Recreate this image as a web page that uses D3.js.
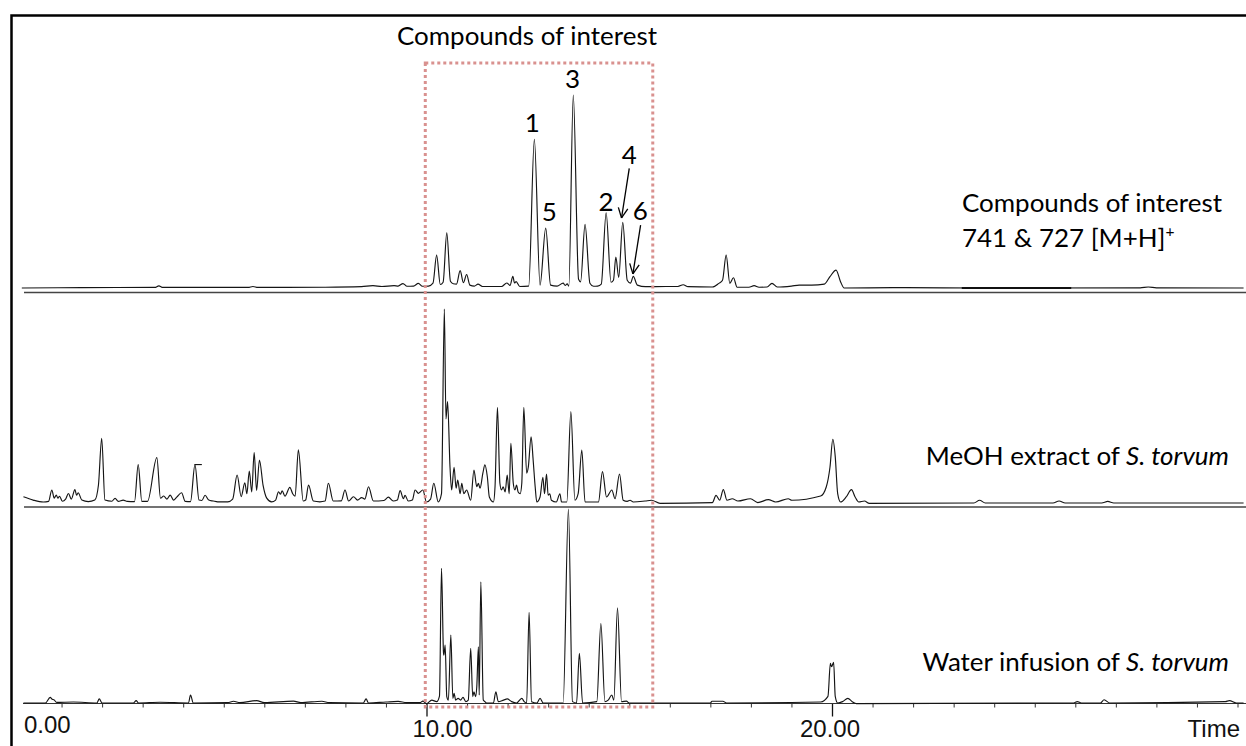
<!DOCTYPE html>
<html>
<head>
<meta charset="utf-8">
<script src="https://cdn.jsdelivr.net/npm/d3@7"></script>
<style>
    body { margin: 0; background: #fff; }
    svg { display: block; }
    .label { font-family: Lato, "Open Sans", sans-serif; fill: #000; }
    .tick-label { font-family: "Liberation Sans", Arial, sans-serif; font-size: 24px; fill: #111; }
</style>
</head>
<body>
<div id="chart"></div>
<script>
// chromatogram readings: [retention time (min), intensity (% of the largest peak)]
const eicTrace = [
    [0.02,0.0],[1.5,0.2],[3.30,0.3],[3.40,1.1],[3.50,0.3],[5.60,0.3],[5.72,0.8],[5.84,0.3],[7.50,0.4],
    [8.40,0.7],[8.68,1.2],[8.90,0.8],[9.20,1.2],[9.30,1.0],[9.42,2.3],[9.52,0.9],[9.68,1.0],[9.80,2.4],
    [9.90,0.9],[10.05,1.0],[10.16,2.5],[10.25,17],[10.34,1.8],[10.41,3.0],[10.50,28.6],[10.59,3.5],
    [10.66,2.2],[10.74,2.0],[10.83,9.0],[10.91,2.8],[10.99,7.0],[11.07,1.5],[11.18,1.0],[11.27,2.0],
    [11.38,0.8],[11.85,0.8],[11.98,2.6],[12.06,1.3],[12.13,6.0],[12.17,2.6],[12.21,3.3],[12.30,0.8],
    [12.52,1.0],[12.66,77],[12.80,1.5],[12.94,31],[13.06,1.5],[13.22,1.0],[13.37,2.5],[13.42,1.3],
    [13.47,2.1],[13.51,1.0],[13.62,100],[13.75,4.5],[13.80,3.2],[13.91,33],[14.03,2.5],[14.12,0.9],
    [14.22,1.0],[14.31,2.0],[14.43,39],[14.55,3.0],[14.61,4.0],[14.67,16],[14.74,5.5],[14.84,34],
    [14.95,4.0],[15.03,2.5],[15.10,6.0],[15.20,1.5],[15.40,0.7],[15.90,0.8],[16.20,0.8],[16.33,1.7],
    [16.45,0.7],[17.05,0.5],[17.21,2.4],[17.30,4.0],[17.39,17],[17.48,2.4],[17.57,5.3],[17.66,0.4],
    [17.95,0.4],[18.08,1.2],[18.20,0.4],[18.40,0.5],[18.52,2.4],[18.65,0.5],[19.00,1.0],[19.19,1.5],
    [19.50,1.5],[19.81,2.0],[19.95,5.9],[20.10,9.3],[20.21,3.3],[20.30,0.0],[21.5,0.2],[24.0,0.0],
    [27.6,0.1],[27.8,0.5],[28.0,0.1],[30.15,0.0]
];
// darker stretch of the top baseline
const eicDarkSegment = [[23.2,0.0],[25.9,0.0]];

const meohTrace = [
    [0.06,2.7],[0.30,1.0],[0.55,0.0],[0.68,0.3],[0.76,6.2],[0.82,2.0],[0.87,3.6],[0.91,2.0],[0.95,3.0],
    [1.02,0.4],[1.10,1.5],[1.17,4.4],[1.24,1.5],[1.33,6.4],[1.37,3.5],[1.41,4.8],[1.50,1.0],[1.66,0.2],
    [1.82,1.0],[1.91,8.8],[1.99,33],[2.07,1.0],[2.24,0.4],[2.32,1.9],[2.40,0.3],[2.52,1.0],[2.62,0.3],
    [2.80,0.2],[2.89,19.4],[2.98,0.3],[3.12,0.3],[3.35,23],[3.44,2.0],[3.52,3.1],[3.60,1.5],[3.68,3.6],
    [3.76,1.0],[3.84,2.5],[3.96,4.8],[4.05,0.3],[4.18,0.2],[4.29,19.4],[4.39,1.0],[4.46,0.8],[4.54,3.5],
    [4.63,1.0],[4.74,0.5],[4.85,0.1],[5.10,0.1],[5.22,1.5],[5.33,14],[5.43,2.8],[5.52,10],[5.57,4.3],
    [5.63,16],[5.69,5.2],[5.75,25.6],[5.81,6.0],[5.88,21.7],[5.97,8.6],[6.06,2.0],[6.18,0.1],[6.28,1.0],
    [6.35,5.3],[6.40,4.0],[6.44,5.8],[6.51,3.0],[6.63,7.6],[6.70,4.3],[6.76,3.0],[6.84,27],[6.96,0.5],
    [7.02,1.0],[7.09,8.8],[7.21,0.5],[7.37,0.1],[7.50,0.5],[7.58,9.7],[7.70,0.5],[7.90,0.6],[7.99,6.2],
    [8.08,0.5],[8.20,2.7],[8.30,1.0],[8.40,2.3],[8.48,1.5],[8.57,7.9],[8.69,0.5],[8.95,0.8],[9.06,2.5],
    [9.18,0.5],[9.28,1.0],[9.35,5.9],[9.43,1.7],[9.47,3.5],[9.55,0.5],[9.65,1.0],[9.72,6.2],[9.80,4.5],
    [9.91,6.2],[10.00,0.0],[10.10,1.5],[10.18,9.7],[10.29,0.0],[10.37,4.3],[10.44,100],[10.48,43],
    [10.52,52],[10.58,18],[10.62,6.2],[10.68,18],[10.73,7.1],[10.77,11.4],[10.83,4.3],[10.87,9.7],
    [10.92,4.3],[10.99,6.2],[11.09,0.9],[11.17,16.6],[11.24,7.9],[11.28,9.7],[11.32,7.1],[11.39,14.9],
    [11.44,19.2],[11.50,13.1],[11.55,2.6],[11.65,0.0],[11.69,7.9],[11.75,49],[11.81,9.7],[11.85,6.2],
    [11.89,7.9],[11.94,5.2],[11.99,14],[12.04,4.3],[12.08,30.4],[12.14,9.7],[12.18,6.2],[12.22,8.8],
    [12.26,5.2],[12.31,4.3],[12.35,9.7],[12.40,49],[12.47,14.9],[12.51,18],[12.58,33.8],[12.63,21.8],
    [12.68,7.9],[12.72,0.0],[12.80,2.6],[12.87,12.8],[12.91,4.3],[12.96,14.5],[13.00,3.5],[13.04,4.3],
    [13.08,0.9],[13.20,0.0],[13.29,4.3],[13.33,0.0],[13.46,0.0],[13.56,46.8],[13.66,0.9],[13.74,4.3],
    [13.83,26.9],[13.91,0.0],[14.24,0.0],[14.34,15.7],[14.44,2.6],[14.57,6.2],[14.65,1.7],[14.76,14.5],
    [14.85,0.9],[14.95,0.3],[15.02,0.9],[15.10,0.0],[15.39,0.5],[15.55,0.9],[15.76,-0.7],[17.05,-0.3],
    [17.14,3.4],[17.23,0.9],[17.32,6.4],[17.41,0.9],[17.54,1.7],[17.68,0.5],[17.99,1.7],[18.17,-0.3],
    [18.43,1.2],[18.61,0.0],[18.92,1.7],[19.01,0.9],[19.72,3.1],[19.86,7.9],[19.95,18],[20.02,32.5],
    [20.08,23.5],[20.14,4.3],[20.21,0.0],[20.35,2.6],[20.48,6.4],[20.57,2.6],[20.66,0.0],[20.80,0.5],
    [20.92,-0.7],[23.50,-0.5],[23.64,0.9],[23.78,-0.5],[25.45,-0.5],[25.60,0.5],[25.75,-0.5],[26.65,-0.5],
    [26.80,0.3],[26.95,-0.5],[30.15,-0.5]
];
// the little flat cap drawn on the 4.3 min peak
const meohCapMark = [[4.28,19.4],[4.46,19.4]];

const waterTrace = [
    [0.06,0.0],[0.60,0.0],[0.72,2.9],[0.77,1.9],[0.81,1.7],[0.88,0.3],[1.29,0.5],[1.87,0.0],[1.93,2.1],
    [2.00,0.0],[2.77,0.0],[2.84,1.2],[2.90,0.0],[3.43,0.4],[4.13,0.0],[4.18,4.1],[4.25,0.0],[5.10,0.2],
    [5.24,0.9],[5.40,0.2],[5.81,1.2],[6.00,0.2],[6.72,1.0],[6.90,0.2],[7.42,0.9],[7.60,0.2],[8.44,0.0],
    [8.51,2.1],[8.57,0.0],[9.00,0.5],[9.30,0.8],[9.51,0.2],[9.84,0.2],[9.91,1.0],[10.00,-0.3],[10.13,1.5],
    [10.25,0.7],[10.32,3.6],[10.37,69.4],[10.42,25.6],[10.43,24.7],[10.46,29.9],[10.50,3.3],[10.54,1.5],
    [10.60,35],[10.65,2.4],[10.68,5.0],[10.72,1.5],[10.78,2.4],[10.84,1.5],[10.90,2.9],[10.97,0.7],
    [11.03,1.5],[11.09,28.2],[11.14,3.3],[11.17,5.8],[11.21,3.3],[11.24,8.4],[11.28,29.0],[11.30,4.1],
    [11.34,62.5],[11.40,1.5],[11.44,0.7],[11.48,0.0],[11.65,0.0],[11.71,5.8],[11.77,0.7],[11.90,1.5],
    [11.99,2.1],[12.10,0.7],[12.22,0.0],[12.35,2.4],[12.41,0.7],[12.47,0.0],[12.53,46.8],[12.59,0.7],
    [12.72,0.0],[12.80,2.4],[12.88,0.0],[13.37,0.0],[13.50,100],[13.60,0.7],[13.70,0.0],[13.77,25.6],
    [13.85,0.0],[14.20,0.7],[14.30,41],[14.40,0.7],[14.48,1.5],[14.57,4.1],[14.62,1.5],[14.71,49.1],
    [14.81,0.7],[14.93,1.0],[15.00,0.0],[17.00,0.0],[17.04,0.9],[17.31,0.9],[17.40,0.0],[19.72,0.5],
    [19.90,3.4],[19.96,20.4],[19.99,18.7],[20.04,21.0],[20.08,3.4],[20.14,0.0],[20.26,0.7],[20.39,2.4],
    [20.50,0.7],[20.60,-0.3],[25.96,0.0],[26.05,0.7],[26.15,0.0],[26.62,0.0],[26.71,1.7],[26.85,0.0],
    [29.70,0.7],[29.80,1.2],[29.97,0.0],[30.15,0.0]
];

// peak numbers on the top trace: label, time, intensity where the label sits
const peakLabels = [
    {label: "1", t: 12.61, v: 81},
    {label: "5", t: 13.03, v: 34.9},
    {label: "3", t: 13.60, v: 103.5},
    {label: "2", t: 14.43, v: 40},
    {label: "4", t: 15.00, v: 64.1},
    {label: "6", t: 15.27, v: 35.2}
];
// arrows for the crowded peaks: [time, intensity] from -> to
const peakArrows = [
    {from: [15.00, 62.0], to: [14.81, 36.3]},
    {from: [15.28, 32.6], to: [15.09, 7.3]}
];

const boxRange = [9.97, 15.58];
const majorTicks = [10, 20];
const tickLabels = [
    {t: 0, text: "0.00"},
    {t: 10, text: "10.00"},
    {t: 20, text: "20.00"}
];

// ---- setup ----
const svgWidth = 1246;
const svgHeight = 746;

let svg = d3.select('#chart')
    .append('svg')
    .attr('width', svgWidth)
    .attr('height', svgHeight);

svg.append('rect')
    .attr('width', svgWidth)
    .attr('height', svgHeight)
    .attr('fill', '#fff');

// time axis shared by all three traces
let x = d3.scaleLinear()
    .domain([0, 30])
    .range([21, 1237.5]);

// one stacked panel per trace (baseline y, y of 100 %, y of its rule line)
let panels = [
    {data: eicTrace, base: 288, top: 95, rule: 292.5},
    {data: meohTrace, base: 502, top: 309, rule: 507},
    {data: waterTrace, base: 703, top: 509, rule: null}
];

panels.forEach(p => {
    p.y = d3.scaleLinear().domain([0, 100]).range([p.base, p.top]);
    if (p.rule) {
        svg.append('line')
            .attr('x1', x(0) + 3).attr('x2', svgWidth)
            .attr('y1', p.rule).attr('y2', p.rule)
            .attr('stroke', '#444')
            .attr('stroke-width', 1.5);
    }
});

// bottom time axis: minor ticks every minute, long ticks at 10 and 20
let axisY = 703.5;
let minorAxis = d3.axisBottom(x)
    .tickValues(d3.range(1, 31).filter(d => !majorTicks.includes(d)))
    .tickSize(4)
    .tickSizeOuter(0)
    .tickFormat('');
let axisG = svg.append('g')
    .attr('transform', `translate(0,${axisY})`)
    .call(minorAxis);
axisG.select('.domain').remove();
axisG.selectAll('line').attr('stroke', '#333');

let majorAxis = d3.axisBottom(x)
    .tickValues(majorTicks)
    .tickSize(13)
    .tickSizeOuter(0)
    .tickFormat('');
let majorG = svg.append('g')
    .attr('transform', `translate(0,${axisY})`)
    .call(majorAxis);
majorG.select('.domain').remove();
majorG.selectAll('line').attr('stroke', '#111').attr('stroke-width', 1.3);

svg.append('line')
    .attr('x1', x(0) + 2).attr('x2', svgWidth)
    .attr('y1', axisY).attr('y2', axisY)
    .attr('stroke', '#333')
    .attr('stroke-width', 1.2);

// traces
panels.forEach(p => {
    let valueLine = d3.line()
        .x(d => x(d[0]))
        .y(d => p.y(d[1]))
        .curve(d3.curveMonotoneX);
    svg.append('path')
        .attr('d', valueLine(p.data))
        .attr('fill', 'none')
        .attr('stroke', '#151515')
        .attr('stroke-width', 1.15)
        .attr('stroke-linejoin', 'round');
});

svg.append('path')
    .attr('d', d3.line().x(d => x(d[0])).y(d => panels[1].y(d[1]))(meohCapMark))
    .attr('fill', 'none')
    .attr('stroke', '#151515')
    .attr('stroke-width', 1.15);

svg.append('path')
    .attr('d', d3.line().x(d => x(d[0])).y(d => panels[0].y(d[1]))(eicDarkSegment))
    .attr('fill', 'none')
    .attr('stroke', '#111')
    .attr('stroke-width', 2);

// dotted box round the compounds of interest
svg.append('rect')
    .attr('x', x(boxRange[0]))
    .attr('y', 63)
    .attr('width', x(boxRange[1]) - x(boxRange[0]))
    .attr('height', 707 - 63)
    .attr('fill', 'none')
    .attr('stroke', '#d9918f')
    .attr('stroke-width', 3)
    .attr('stroke-dasharray', '3,3');

// frame (right and bottom sides fall outside the picture)
svg.append('rect')
    .attr('x', 11.5)
    .attr('y', 15.5)
    .attr('width', svgWidth)
    .attr('height', svgHeight)
    .attr('fill', 'none')
    .attr('stroke', '#000')
    .attr('stroke-width', 2.5);

// size the Calibri-like text so the reference phrase is 260px wide
let probe = svg.append('text').attr('class', 'label').style('font-size', '28px')
    .text('Compounds of interest');
let labelSize = 28 * 260 / probe.node().getComputedTextLength();
probe.remove();

function addLabel(xPos, yPos, anchor) {
    return svg.append('text')
        .attr('class', 'label')
        .attr('x', xPos)
        .attr('y', yPos)
        .attr('text-anchor', anchor)
        .style('font-size', labelSize + 'px');
}

addLabel(397, 45, 'start').text('Compounds of interest');

addLabel(962, 212, 'start').text('Compounds of interest');
let massLabel = addLabel(962, 247, 'start');
massLabel.append('tspan').text('741 & 727 [M+H]');
massLabel.append('tspan').attr('dy', -10).style('font-size', (labelSize * 0.6) + 'px').text('+');

let meohLabel = addLabel(1229, 465, 'end');
meohLabel.append('tspan').text('MeOH extract of ');
meohLabel.append('tspan').style('font-style', 'italic').text('S. torvum');

let waterLabel = addLabel(1229, 670.5, 'end');
waterLabel.append('tspan').text('Water infusion of ');
waterLabel.append('tspan').style('font-style', 'italic').text('S. torvum');

// peak numbers and arrows on the top trace
let yTop = panels[0].y;
peakLabels.forEach(d => {
    addLabel(x(d.t), yTop(d.v), 'middle').text(d.label);
});

peakArrows.forEach(a => {
    let x1 = x(a.from[0]), y1 = yTop(a.from[1]);
    let x2 = x(a.to[0]), y2 = yTop(a.to[1]);
    svg.append('line')
        .attr('x1', x1).attr('y1', y1).attr('x2', x2).attr('y2', y2)
        .attr('stroke', '#000').attr('stroke-width', 1.3);
    let ang = Math.atan2(y1 - y2, x1 - x2);
    [-0.45, 0.45].forEach(off => {
        svg.append('line')
            .attr('x1', x2).attr('y1', y2)
            .attr('x2', x2 + 11 * Math.cos(ang + off))
            .attr('y2', y2 + 11 * Math.sin(ang + off))
            .attr('stroke', '#000').attr('stroke-width', 1.3);
    });
});

// time labels
tickLabels.forEach(d => {
    let t = svg.append('text')
        .attr('class', 'tick-label')
        .text(d.text);
    if (d.t == 0) {
        t.attr('x', x(d.t) + 3).attr('y', 732.5).attr('text-anchor', 'start');
    } else if (d.t == 10) {
        t.attr('x', x(d.t) + 16).attr('y', 737).attr('text-anchor', 'middle');
    } else {
        t.attr('x', x(d.t) - 2).attr('y', 737).attr('text-anchor', 'middle');
    }
});

svg.append('text')
    .attr('class', 'tick-label')
    .attr('x', 1240)
    .attr('y', 737)
    .attr('text-anchor', 'end')
    .text('Time');
</script>
</body>
</html>
